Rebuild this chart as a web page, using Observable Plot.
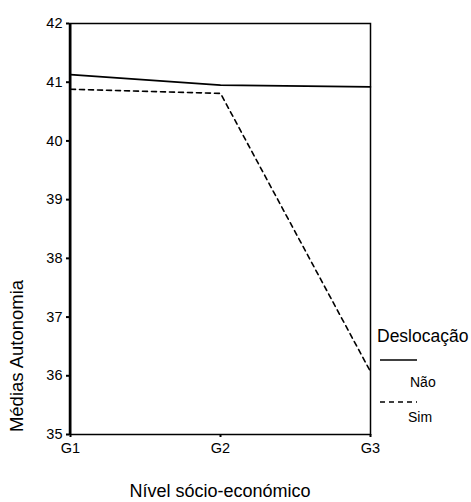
<!DOCTYPE html>
<html>
<head>
<meta charset="utf-8">
<script src="https://cdn.jsdelivr.net/npm/d3@7"></script>
<script src="https://cdn.jsdelivr.net/npm/@observablehq/plot@0.6"></script>
<style>
  html, body { margin: 0; padding: 0; background: #fff; }
  #wrap { position: relative; width: 471px; height: 502px; font-family: "Liberation Sans", Arial, sans-serif; }
  #legend { position: absolute; left: 0; top: 0; pointer-events: none; }
</style>
</head>
<body>
<div id="wrap"></div>
<script>
const groups = ["G1", "G2", "G3"];
const naoValues = [41.13, 40.95, 40.92];
const simValues = [40.88, 40.81, 36.07];
const seriesNames = ["Não", "Sim"];
const yTicks = [35, 36, 37, 38, 39, 40, 41, 42];
const xTitle = "Nível sócio-económico";
const yTitle = "Médias Autonomia";
const legendTitle = "Deslocação";

const data = [
  ...groups.map((g, i) => ({group: g, value: naoValues[i], serie: seriesNames[0]})),
  ...groups.map((g, i) => ({group: g, value: simValues[i], serie: seriesNames[1]}))
];

const W = 471, H = 502;
const chart = Plot.plot({
  width: W,
  height: H,
  marginLeft: 69,
  marginRight: 101,
  marginTop: 23,
  marginBottom: 68,
  style: {fontFamily: "Liberation Sans, Arial, sans-serif", background: "#fff", color: "#000"},
  x: {type: "point", domain: groups, padding: 0},
  y: {domain: [35, 42]},
  marks: [
    Plot.frame({stroke: "#000", strokeWidth: 1.5}),
    Plot.ruleX([groups[0]], {stroke: "#000", strokeWidth: 2}),
    Plot.axisY({ticks: yTicks, tickFormat: d => d, tickSize: 3, tickPadding: 4, fontSize: 14.5, label: null, strokeWidth: 2}),
    Plot.axisX({tickSize: 3, tickPadding: 5, fontSize: 14.5, label: null, strokeWidth: 2}),
    Plot.line(data.filter(d => d.serie === seriesNames[0]), {x: "group", y: "value", stroke: "#000", strokeWidth: 1.6}),
    Plot.line(data.filter(d => d.serie === seriesNames[1]), {x: "group", y: "value", stroke: "#000", strokeWidth: 1.6, strokeDasharray: "5,4"}),
    Plot.text([xTitle], {frameAnchor: "bottom", dy: 62, fontSize: 18, text: d => d, fill: "#000"}),
    Plot.text([yTitle], {frameAnchor: "left", textAnchor: "middle", dx: -52, dy: 127, rotate: -90, fontSize: 18.5, text: d => d, fill: "#000"})
  ]
});
const wrap = document.getElementById("wrap");
wrap.appendChild(chart);

// legend overlay
const ns = "http://www.w3.org/2000/svg";
const lg = document.createElementNS(ns, "svg");
lg.setAttribute("id", "legend");
lg.setAttribute("width", W);
lg.setAttribute("height", H);
lg.style.fontFamily = "Liberation Sans, Arial, sans-serif";
function txt(x, y, s, size) {
  const t = document.createElementNS(ns, "text");
  t.setAttribute("x", x); t.setAttribute("y", y);
  t.setAttribute("font-size", size);
  t.setAttribute("fill", "#000");
  t.textContent = s;
  lg.appendChild(t);
}
function ln(x1, x2, y, dash) {
  const l = document.createElementNS(ns, "line");
  l.setAttribute("x1", x1); l.setAttribute("x2", x2);
  l.setAttribute("y1", y); l.setAttribute("y2", y);
  l.setAttribute("stroke", "#000");
  l.setAttribute("stroke-width", 1.5);
  if (dash) l.setAttribute("stroke-dasharray", dash);
  lg.appendChild(l);
}
txt(377, 342, legendTitle, 17.5);
ln(380, 417, 360, null);
txt(410, 387, seriesNames[0], 14);
ln(380, 417, 402, "5,4");
txt(408, 422, seriesNames[1], 14);
wrap.appendChild(lg);
</script>
</body>
</html>
